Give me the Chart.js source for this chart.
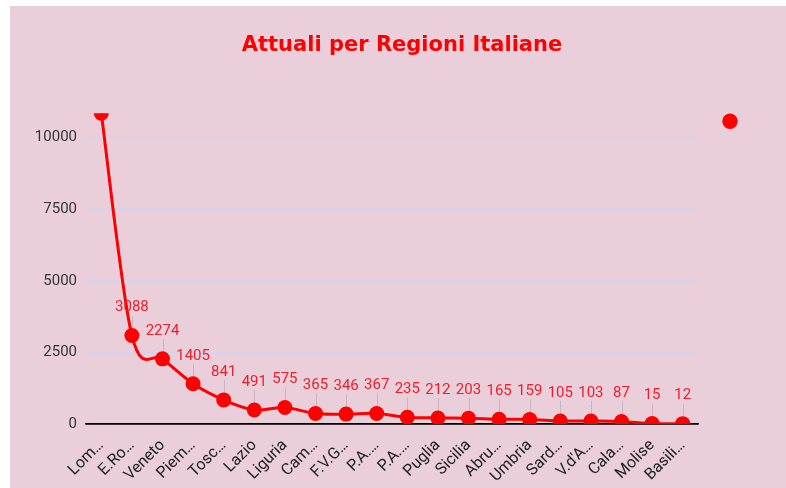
<!DOCTYPE html>
<html><head><meta charset="utf-8">
<script src="https://cdn.jsdelivr.net/npm/chart.js@4"></script>
<style>
html,body{margin:0;padding:0;background:#ffffff;}
#wrap{position:absolute;left:10px;top:6px;width:776px;height:482px;background:#eacfdb;}
</style></head><body>
<div id="wrap"><canvas id="c"></canvas></div>
<script>
const tickLabels = ["Lom…","E.Ro…","Veneto","Piem…","Tosc…","Lazio","Liguria","Cam…","F.V.G…","P.A.…","P.A.…","Puglia","Sicilia","Abru…","Umbria","Sard…","V.d'A…","Cala…","Molise","Basili…"];
const values = [10852,3088,2274,1405,841,491,575,365,346,367,235,212,203,165,159,105,103,87,15,12];
const yTicks = [0,2500,5000,7500,10000];
const titleText = "Attuali per Regioni Italiane";

const RED = '#ff0000';

// smoother, uniform (Catmull-Rom like) curve through the library's own points
const curvePlugin = {
  id: 'curve',
  beforeDatasetDraw(chart, args) {
    const meta = args.meta;
    const line = meta.dataset;
    if (!line || !line.updateControlPoints) return;
    line.updateControlPoints(chart.chartArea, 'x');
    const pts = meta.data;
    const k = 1 / 6;
    for (let i = 0; i < pts.length; i++) {
      const p = pts[Math.max(i - 1, 0)], n = pts[Math.min(i + 1, pts.length - 1)], c = pts[i];
      const dx = (n.x - p.x) * k, dy = (n.y - p.y) * k;
      c.cp1x = c.x - dx; c.cp1y = c.y - dy;
      c.cp2x = c.x + dx; c.cp2y = c.y + dy;
    }
  }
};

const stemsPlugin = {
  id: 'stems',
  beforeDatasetsDraw(chart) {
    const {ctx, chartArea: a} = chart;
    const meta = chart.getDatasetMeta(0);
    ctx.save();
    ctx.beginPath(); ctx.rect(a.left, a.top, a.right - a.left, a.bottom - a.top); ctx.clip();
    ctx.strokeStyle = 'rgba(0,0,0,0.13)';
    ctx.lineWidth = 1;
    meta.data.forEach(pt => {
      ctx.beginPath();
      ctx.moveTo(Math.round(pt.x) + 0.5, pt.y - 20);
      ctx.lineTo(Math.round(pt.x) + 0.5, pt.y - 6);
      ctx.stroke();
    });
    ctx.restore();
  },
  afterDatasetsDraw(chart) {
    const {ctx, chartArea: a} = chart;
    const meta = chart.getDatasetMeta(0);
    ctx.save();
    ctx.beginPath(); ctx.rect(a.left, a.top, a.right - a.left, a.bottom - a.top); ctx.clip();
    ctx.font = '15px Roboto';
    ctx.textAlign = 'center';
    ctx.textBaseline = 'middle';
    ctx.fillStyle = '#ea1f2b';
    meta.data.forEach((pt, i) => {
      ctx.fillText(String(values[i]), pt.x, pt.y - 28);
    });
    ctx.restore();
  },
  afterDraw(chart) {
    const {ctx, chartArea: a} = chart;
    ctx.save();
    ctx.fillStyle = RED;
    ctx.beginPath();
    ctx.arc(a.right + 32, a.top + 8, 7.7, 0, Math.PI * 2);
    ctx.fill();
    ctx.restore();
  }
};

new Chart(document.getElementById('c'), {
  type: 'line',
  data: {
    labels: tickLabels,
    datasets: [{
      label: '',
      data: values,
      borderColor: RED,
      backgroundColor: RED,
      pointBackgroundColor: RED,
      pointBorderColor: RED,
      pointRadius: 7.5,
      pointBorderWidth: 0,
      borderWidth: 3,
      tension: 0.4,
      fill: false,
      clip: 0
    }]
  },
  options: {
    responsive: true,
    maintainAspectRatio: false,
    animation: false,
    layout: { padding: { left: 8, right: 0, top: 0, bottom: 0 } },
    plugins: {
      legend: { display: false },
      tooltip: { enabled: false },
      title: {
        display: true,
        text: titleText,
        color: RED,
        font: { family: 'DejaVu Sans', weight: 'bold', size: 21 },
        padding: { top: 27, bottom: 55 }
      }
    },
    scales: {
      x: {
        offset: true,
        grid: { display: false },
        border: { display: true, color: '#000', width: 1.5 },
        ticks: {
          color: '#222',
          font: { family: 'Roboto', size: 16 },
          minRotation: 45, maxRotation: 45,
          autoSkip: false,
          padding: 4
        },
        afterFit(s) { s.height = 64; }
      },
      y: {
        min: 0,
        max: Math.max(...values),
        border: { display: false },
        grid: {
          drawTicks: false,
          lineWidth: 1.5,
          color: c => (c.tick && c.tick.value === 0) ? '#000' : '#cfd6ee'
        },
        ticks: {
          color: '#333',
          font: { family: 'Roboto', size: 15 },
          padding: 9,
          includeBounds: false,
          callback: v => String(v)
        },
        afterBuildTicks(s) { s.ticks = yTicks.map(v => ({ value: v })); },
        afterFit(s) { s.width = 68; }
      },
      side: {
        type: 'linear',
        position: 'right',
        display: true,
        grid: { display: false },
        border: { display: false },
        ticks: { display: false },
        afterFit(s) { s.width = 88; }
      }
    }
  },
  plugins: [curvePlugin, stemsPlugin]
});
</script>
</body></html>
